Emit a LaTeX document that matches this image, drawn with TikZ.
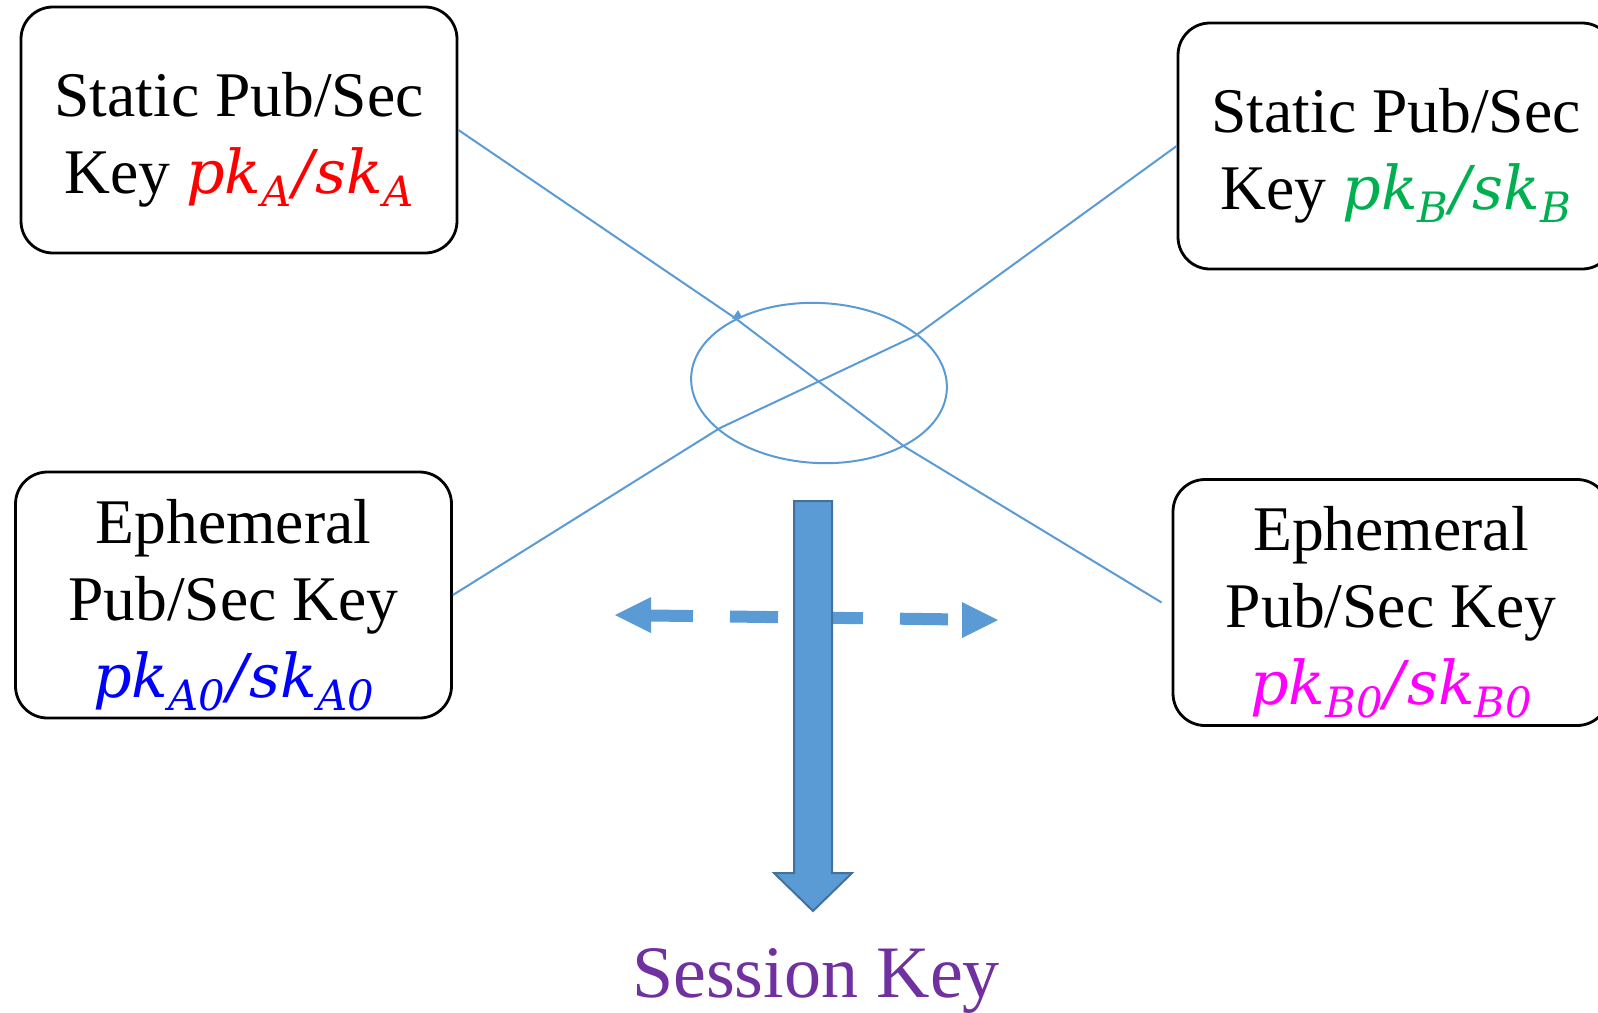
\documentclass[tikz,border=0pt]{standalone}
\usepackage{fontspec}
\setmainfont{Liberation Serif}
\newfontfamily\kf{DejaVu Serif}[Scale=0.95]
\usetikzlibrary{shapes.geometric,calc}
\definecolor{lineblue}{HTML}{5B9BD5}
\definecolor{arrowedge}{HTML}{41719C}
\definecolor{kred}{RGB}{255,0,0}
\definecolor{kblue}{RGB}{0,0,255}
\definecolor{kmag}{RGB}{255,0,255}
\definecolor{kgreen}{HTML}{00B050}
\definecolor{kpurple}{HTML}{7030A0}
\newcommand\sbs[1]{\raisebox{-0.22em}{\fontsize{22pt}{22pt}\selectfont #1}}
\newcommand\kp[2]{{\color{#1}\kf\itshape pk\sbs{#2}\kern1pt/\kern1pt sk\sbs{#2}}}
\newcommand\topst{\rule{0pt}{32pt}}
\begin{document}
\begin{tikzpicture}[x=0.5pt,y=-0.5pt,
  keybox/.style={draw=black, line width=1.4pt, rounded corners=16pt,
    minimum width=218pt, minimum height=123pt, inner sep=0pt, align=center,
    font=\fontsize{31.8pt}{38.5pt}\selectfont},
  link/.style={draw=lineblue, line width=1pt},
  headfill/.style={fill=lineblue},
]
\path[use as bounding box] (0,0) rectangle (1598,1012);
\clip (0,0) rectangle (1598,1012);

% boxes
\node[keybox] (A) at (239,130) {\topst Static Pub/Sec\\Key \kp{kred}{A}};
\node[keybox] (B) at (1396,146) {\topst Static Pub/Sec\\Key \kp{kgreen}{B}};
\node[keybox] (A0) at (233.5,595) {\topst Ephemeral\\Pub/Sec Key\\\kp{kblue}{A0}};
\node[keybox] (B0) at (1391,602.5) {\topst Ephemeral\\Pub/Sec Key\\\kp{kmag}{B0}};

% ellipse
\node[ellipse, draw=lineblue, line width=1pt, minimum width=128pt, minimum height=80pt,
  inner sep=0pt, rotate=-3] (E) at (819,383) {};

% crossing links
\coordinate (p1) at (735,318);
\coordinate (p2) at (905,447);
\coordinate (q1) at (720,428);
\coordinate (q2) at (915,336);
\draw[link] (A.east) -- (p1) -- (p2) -- ([xshift=-5pt]B0.west);
\draw[link] (A0.east) -- (q1) -- (q2) -- (B.west);
\fill[headfill] (732,319) -- (738,310) -- (742,317) -- cycle;

% dashed double arrow
\coordinate (dl) at (615,615);
\coordinate (dr) at (998,620);
\coordinate (dlb) at (651,615.5);
\coordinate (drb) at (962,619.5);
\draw[lineblue, line width=6pt, dash pattern=on 24pt off 18.5pt, dash phase=3pt] (dlb) -- (drb);
\fill[headfill] (dl) -- (651,597) -- (651,633) -- cycle;
\fill[headfill] (dr) -- (962,602) -- (962,638) -- cycle;

% thick block arrow
\draw[fill=lineblue, draw=arrowedge, line width=1pt]
  (794,501) -- (832,501) -- (832,873) -- (852,873) -- (813,911) -- (774,873) -- (794,873) -- cycle;

% session key
\node[font=\fontsize{37pt}{40pt}\selectfont, text=kpurple, anchor=base, inner sep=0pt] (SK) at (816,997) {Session Key};
\end{tikzpicture}
\end{document}
